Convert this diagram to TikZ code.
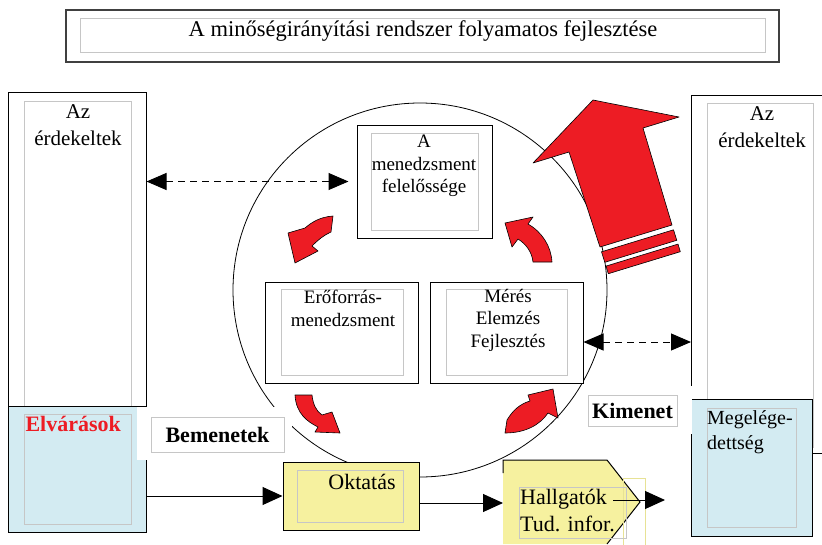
\documentclass[tikz,border=0pt]{standalone}
\usepackage{fontspec}
\setmainfont{Liberation Serif}
\usetikzlibrary{positioning,arrows.meta}
\definecolor{arrowred}{HTML}{ED1C24}
\definecolor{wishblue}{HTML}{D3EBF2}
\definecolor{eduyellow}{HTML}{F6F19F}
\definecolor{framegray}{HTML}{C6C6C6}
\tikzset{
  box/.style={draw=black,line width=1pt,fill=white,inner sep=0pt},
  innerframe/.style={draw=framegray,line width=1pt},
  boxtext/.style={align=center,inner sep=0pt,font=\fontsize{19}{22.5}\selectfont},
  stakeholder/.style={align=center,inner sep=0pt,font=\fontsize{21}{27}\selectfont},
  flowtext/.style={align=left,inner sep=0pt,font=\fontsize{22}{27}\selectfont},
  tag/.style={draw=framegray,line width=1pt,fill=white,inner sep=0pt,font=\bfseries\fontsize{22}{26}\selectfont},
  bigtip/.style={-{Triangle[length=20pt,width=18pt]},line width=1pt},
  dashlink/.style={{Triangle[length=20pt,width=17pt]}-{Triangle[length=20pt,width=17pt]},line width=1pt,dash pattern=on 7pt off 5pt},
  redarrow/.style={fill=arrowred,draw=black,line width=0.6pt,line join=round},
}
\begin{document}
\begin{tikzpicture}[x=1pt,y=-1pt]
\useasboundingbox (0,0) rectangle (822,544);
% title
\node[box,line width=1.6pt,draw=black!75,minimum width=713,minimum height=52] (title) at (422.5,36) {};
\draw[innerframe] (80,18) rectangle (765,52);
\node[inner sep=0pt,font=\fontsize{22.5}{26}\selectfont] (titletxt) at (423,31) {A minőségirányítási rendszer folyamatos fejlesztése};
% the cycle
\draw[line width=0.8pt] (420,290) circle (187);
% stakeholders, left
\node[box,minimum width=138,minimum height=314] (lstake) at (77,249) {};
\draw[innerframe] (24,101) rectangle (131,406);
\node[stakeholder,anchor=north] (lstaketxt) at (78,104) {Az\\érdekeltek};
\node[box,fill=wishblue,minimum width=138,minimum height=126] (lwish) at (77,469) {};
\draw[innerframe] (24,414) rectangle (131,524);
\node[tag,draw=none,fill=none,text=arrowred,anchor=north west] (lwishtxt) at (25,416) {Elvárások};
\fill[white] (137,407) rectangle (292,460);
\node[tag,minimum width=133,minimum height=35] (inlabel) at (217.5,434.5) {Bemenetek};
% stakeholders, right
\node[box,minimum width=136,minimum height=358,anchor=north west] (rstake) at (691,95) {};
\draw[innerframe] (707,103) rectangle (813,447);
\node[stakeholder,anchor=north] (rstaketxt) at (762,106) {Az\\érdekeltek};
\node[box,fill=wishblue,minimum width=121,minimum height=137,anchor=north west] (rsat) at (691,399) {};
\draw[white,line width=1.6pt] (691,386) -- (691,434);
\draw[innerframe] (707,408) rectangle (796,527);
\node[inner sep=0pt,align=left,anchor=north west,font=\fontsize{20}{25}\selectfont] (rsattxt) at (707,410) {Megelége-\\dettség};
\node[tag,minimum width=89,minimum height=31] (outlabel) at (632.5,410.5) {Kimenet};
% processes
\node[box,minimum width=135,minimum height=113] (mgmt) at (424.5,181.5) {};
\draw[innerframe] (371,133) rectangle (478,230);
\node[boxtext,anchor=north] (mgmttxt) at (424,135) {A\\menedzsment\\felelőssége};
\node[box,minimum width=153,minimum height=101] (res) at (341.5,332.5) {};
\draw[innerframe] (281,289) rectangle (403,375);
\node[boxtext,anchor=north] (restxt) at (343,290) {Erőforrás-\\menedzsment};
\node[box,minimum width=153,minimum height=101] (meas) at (506.5,332.5) {};
\draw[innerframe] (446,289) rectangle (567,375);
\node[boxtext,anchor=north] (meastxt) at (508,289) {Mérés\\Elemzés\\Fejlesztés};
% education and product
\node[box,fill=eduyellow,minimum width=136,minimum height=68] (edu) at (351,496) {};
\draw[innerframe] (297,470) rectangle (403,522);
\node[flowtext,anchor=north] (edutxt) at (362,474) {Oktatás};
\fill[eduyellow] (503,460) -- (607,460) -- (640,502) -- (607,544) -- (503,544) -- cycle;
\draw[line width=1pt] (503,473) -- (503,460) -- (607,460) -- (640,502) -- (607,544);
\draw[eduyellow!85!black!40!eduyellow,line width=0.8pt] (623,478) rectangle (645,546);
\draw[innerframe] (519,487) rectangle (626,538);
\node[flowtext,anchor=north west] (gradtxt) at (520,489) {Hallgatók\\Tud. infor.};
\coordinate (gradW) at (503,503);
\coordinate (gradE) at (613,500);
\coordinate (gradend) at (665,500);
% flows
\draw[bigtip] (lwish.east |- edu.west) -- (edu.west);
\draw[bigtip] (edu.east |- gradW) -- (gradW);
\draw[bigtip] (gradE) -- (gradend);
\draw[dashlink] (lstake.east |- mgmt.west) -- ([xshift=-8pt]mgmt.west);
\coordinate (measlink) at ([yshift=-9.5pt]meas.east);
\draw[dashlink] (measlink) -- (rstake.west |- measlink);
% red cycle arrows
\draw[redarrow] (333,216) .. controls (320,217) and (312,222) .. (305,228) -- (288,233) -- (295,263) -- (318,251) -- (312,246) .. controls (318,240) and (324,235) .. (331,232) -- cycle;
\draw[redarrow] (552,262) .. controls (551,246) and (542,232) .. (528,224) -- (533,217) -- (505,223) -- (512,247) -- (518,239) .. controls (526,244) and (532,252) .. (533,262) -- cycle;
\draw[redarrow] (295,395) -- (312,395) .. controls (313,404) and (316,411) .. (322,415) -- (332,412) -- (340,433) -- (315,432) -- (318,427) .. controls (308,422) and (296,414) .. (295,395) -- cycle;
\draw[redarrow] (507,420) .. controls (513,410) and (520,404) .. (530,401) -- (528,395) -- (553,389) -- (558,418) -- (548,413) .. controls (540,425) and (525,433) .. (505,433) -- cycle;
% improvement arrow
\draw[redarrow] (600,247) -- (569,152) -- (533,163) -- (593,100) -- (679,117) -- (643,128) -- (672,225) -- cycle;
\draw[redarrow] (601.5,251.8) -- (673.5,229.8) -- (676.8,240.3) -- (604.8,262.3) -- cycle;
\draw[redarrow] (606,266.1) -- (678,244.1) -- (680.3,251.7) -- (608.3,273.7) -- cycle;
\end{tikzpicture}
\end{document}
